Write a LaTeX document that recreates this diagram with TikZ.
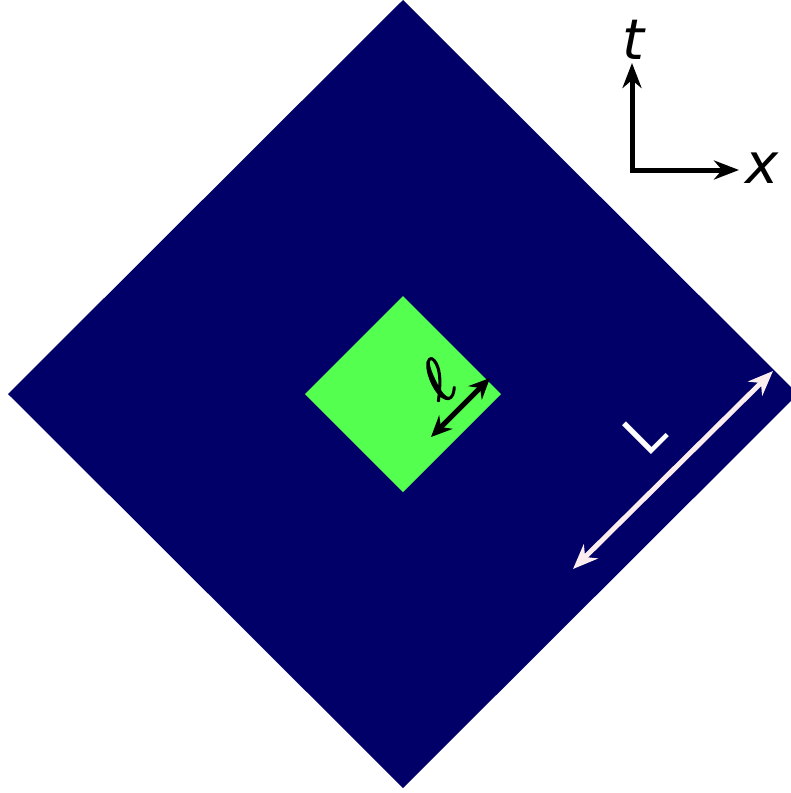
\documentclass[tikz,border=0pt]{standalone}
\usepackage{fontspec}
\setmainfont{DejaVu Sans}
\newfontfamily\lmmath[FakeBold=2.5]{Latin Modern Math}
\usetikzlibrary{arrows.meta}
\definecolor{navyfill}{RGB}{0,0,104}
\definecolor{greenfill}{RGB}{85,255,80}
\definecolor{snowarrow}{RGB}{252,238,238}
\tikzset{
  axisline/.style={line width=5pt, {Stealth[length=25pt,width=19pt,inset=8pt]}-{Stealth[length=25pt,width=19pt,inset=8pt]}},
  ellarrow/.style={line width=5pt, black, {Stealth[length=21pt,width=19pt,inset=7pt]}-{Stealth[length=21pt,width=19pt,inset=7pt]}},
  bigarrow/.style={line width=5pt, snowarrow, {Stealth[length=25pt,width=20pt,inset=8pt]}-{Stealth[length=25pt,width=20pt,inset=8pt]}},
  biglabel/.style={font=\fontsize{56}{62}\selectfont, inner sep=0pt},
}
\begin{document}
\begin{tikzpicture}[x=1pt,y=-1pt]
\useasboundingbox (0,0) rectangle (791,793);
% big diamond
\fill[navyfill] (403,0) -- (798,394) -- (403,788) -- (8,394) -- cycle;
% small diamond
\fill[greenfill] (403,296) -- (501,394) -- (403,492) -- (305,394) -- cycle;
% axes
\coordinate (O) at (632,170);
\coordinate (T) at (632,63);
\coordinate (X) at (739,170);
\draw[axisline] (T) -- (O) -- (X);
\node[biglabel] (tlab) at (633,40) {\itshape t};
\node[biglabel] (xlab) at (762,168) {\itshape x};
% ell arrow
\coordinate (e1) at (431,437);
\coordinate (e2) at (490,378);
\draw[ellarrow] (e1) -- (e2);
\node[biglabel, rotate=40] (ell) at (437,381) {\fontsize{62}{66}\selectfont\lmmath ℓ};
% L arrow
\coordinate (L1) at (573,569);
\coordinate (L2) at (773,371);
\draw[bigarrow] (L1) -- (L2);
\node[biglabel, rotate=45, text=white] (Llab) at (644,433) {L};
\end{tikzpicture}
\end{document}
